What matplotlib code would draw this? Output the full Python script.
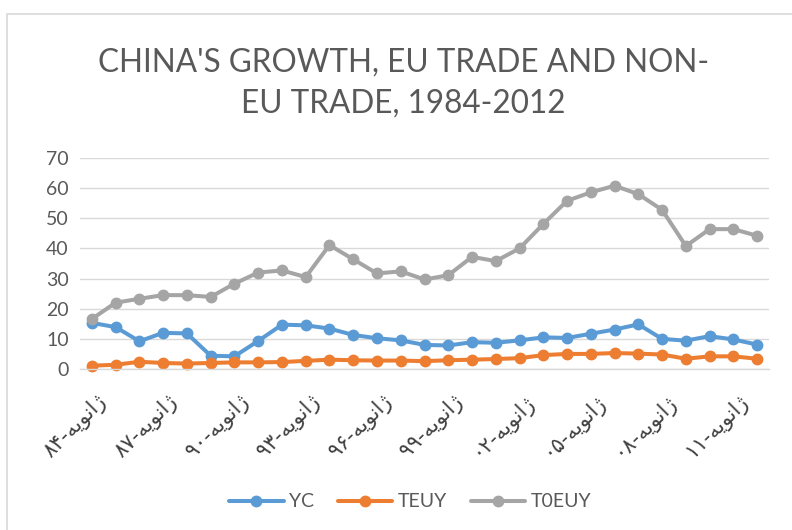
import matplotlib
matplotlib.use("Agg")
import matplotlib.pyplot as plt
from matplotlib.patches import Rectangle
from matplotlib.transforms import ScaledTranslation

# data
years = [1984, 1985, 1986, 1987, 1988, 1989, 1990, 1991, 1992, 1993,
         1994, 1995, 1996, 1997, 1998, 1999, 2000, 2001, 2002, 2003,
         2004, 2005, 2006, 2007, 2008, 2009, 2010, 2011, 2012]
yc = [15.3, 13.9, 9.2, 12.0, 11.8, 4.4, 4.2, 9.3, 14.7, 14.5,
      13.4, 11.3, 10.2, 9.5, 8.0, 7.8, 8.9, 8.7, 9.5, 10.5,
      10.3, 11.7, 13.1, 14.8, 10.0, 9.4, 10.9, 9.8, 8.1]
teuy = [1.1, 1.4, 2.4, 2.0, 1.8, 2.0, 2.2, 2.2, 2.3, 2.7,
        3.1, 2.9, 2.8, 2.8, 2.6, 2.9, 3.1, 3.3, 3.6, 4.6,
        5.0, 5.0, 5.3, 5.1, 4.8, 3.4, 4.2, 4.2, 3.4]
t0euy = [16.6, 22.0, 23.3, 24.5, 24.5, 23.9, 28.3, 32.0, 32.7, 30.5,
         41.1, 36.4, 31.7, 32.4, 29.7, 31.1, 37.2, 35.8, 40.0, 48.1,
         55.8, 58.6, 60.8, 58.0, 52.8, 40.8, 46.4, 46.4, 44.2]

series_names = ["YC", "TEUY", "T0EUY"]
colors = ["#5B9BD5", "#ED7D31", "#A5A5A5"]

tick_pos = [0, 3, 6, 9, 12, 15, 18, 21, 24, 27]
tick_labels = ["ژانویه-۸۴", "ژانویه-۸۷", "ژانویه-۹۰", "ژانویه-۹۳", "ژانویه-۹۶",
               "ژانویه-۹۹", "ژانویه-۰۲", "ژانویه-۰۵", "ژانویه-۰۸", "ژانویه-۱۱"]

title = "CHINA'S GROWTH, EU TRADE AND NON-\nEU TRADE, 1984-2012"

# matplotlib has no arabic shaping, so build the visual form by hand
WORD_SHAPED = "\uFEEA\uFBFE\uFEEE\uFEE7\uFE8D\uFB8A"  # ژانویه, joined forms, reversed


def visual(label):
    word, num = label.split("-")
    return num + "-" + WORD_SHAPED


text_col = "#595959"
grid_col = "#D9D9D9"

fig = plt.figure(figsize=(7.92, 5.30), dpi=100)
fig.patches.append(Rectangle((7 / 792, -0.1), 1.2, 1.1 - 14 / 530,
                             transform=fig.transFigure, fill=False,
                             edgecolor=grid_col, linewidth=1.2, clip_on=False))

ax = fig.add_axes([80 / 792, 1 - 369 / 530, (769 - 80) / 792, (369 - 158) / 530])

x = list(range(len(years)))
for vals, name, c in zip([yc, teuy, t0euy], series_names, colors):
    ax.plot(x, vals, color=c, linewidth=2.9, marker="o", markersize=7.5,
            label=name, solid_capstyle="round", clip_on=False)

ax.set_xlim(-0.5, len(years) - 0.5)
ax.set_ylim(0, 70)
ax.set_yticks(range(0, 71, 10))
ax.grid(axis="y", color=grid_col, linewidth=1.0)
ax.set_axisbelow(True)
for s in ["top", "right", "left"]:
    ax.spines[s].set_visible(False)
ax.spines["bottom"].set_color(grid_col)
ax.spines["bottom"].set_linewidth(1.0)
ax.tick_params(length=0, colors=text_col)
ax.tick_params(axis="y", labelsize=14, pad=8)
for lab in ax.get_yticklabels():
    lab.set_family("Lato")

ax.set_xticks(tick_pos)
ax.set_xticklabels([visual(t) for t in tick_labels], rotation=45,
                   ha="right", va="top", rotation_mode="anchor",
                   fontsize=15, family="DejaVu Sans", color="#404040")
ax.tick_params(axis="x", pad=16)
# nudge labels a little to the right, like the original
shift = ScaledTranslation(4 / 100, 0, fig.dpi_scale_trans)
for lab in ax.get_xticklabels():
    lab.set_transform(lab.get_transform() + shift)

fig.text(0.509, 1 - 83 / 530, title, ha="center", va="center",
         fontsize=22.7, family="Lato", color=text_col, linespacing=1.45)

leg = fig.legend(loc="center", bbox_to_anchor=(0.518, 0.053), ncol=3,
                 frameon=False, handlelength=2.8, handletextpad=0.3,
                 columnspacing=1.2, prop={"family": "Lato", "size": 14})
for t in leg.get_texts():
    t.set_color(text_col)

fig.savefig("out.png", dpi=100)
